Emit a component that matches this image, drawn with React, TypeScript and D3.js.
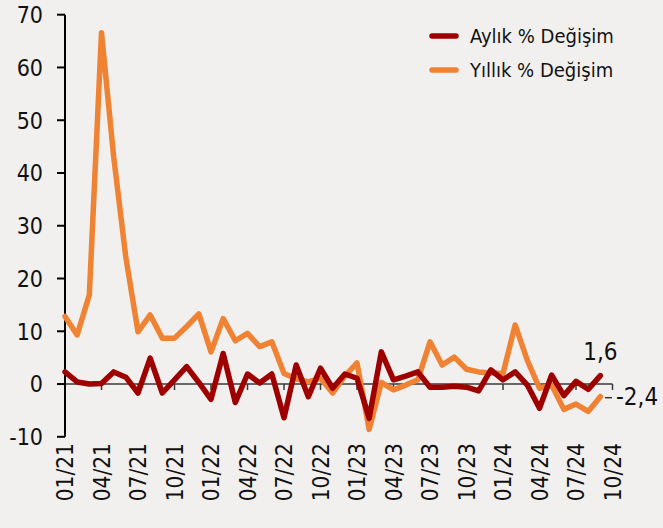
import React from "react";
import * as d3 from "d3";

const months = [
  "01/21","02/21","03/21","04/21","05/21","06/21","07/21","08/21","09/21","10/21","11/21","12/21",
  "01/22","02/22","03/22","04/22","05/22","06/22","07/22","08/22","09/22","10/22","11/22","12/22",
  "01/23","02/23","03/23","04/23","05/23","06/23","07/23","08/23","09/23","10/23","11/23","12/23",
  "01/24","02/24","03/24","04/24","05/24","06/24","07/24","08/24","09/24","10/24",
];
const tickLabels = ["01/21","04/21","07/21","10/21","01/22","04/22","07/22","10/22","01/23","04/23","07/23","10/23","01/24","04/24","07/24","10/24"];
const yTicks = [-10, 0, 10, 20, 30, 40, 50, 60, 70];

const monthlyChange = [2.3,0.4,0,0.1,2.3,1.3,-1.7,4.9,-1.7,0.8,3.3,0.3,-2.9,5.8,-3.5,1.9,0.2,1.9,-6.4,3.6,-2.4,3.0,-0.8,1.9,1.1,-6.5,6.1,0.8,1.5,2.3,-0.6,-0.6,-0.4,-0.6,-1.3,2.7,0.8,2.3,-0.2,-4.6,1.7,-2.2,0.5,-1.0,1.6];
const annualChange = [12.8,9.3,16.9,66.6,43.1,24,9.9,13.1,8.7,8.7,10.9,13.3,6.1,12.4,8.2,9.6,7.1,8.0,2.0,1.0,0.4,1.1,-1.7,1.5,4.0,-8.6,0.3,-1.1,-0.2,0.8,8.0,3.6,5.1,2.8,2.3,2.1,2.0,11.2,4.5,-0.8,-0.2,-4.8,-3.8,-5.2,-2.4];

const seriesNames = ["Aylık % Değişim", "Yıllık % Değişim"];
const lastLabels = ["1,6", "-2,4"];

const W = 663, H = 528;
const RED = "#9e0000";
const ORANGE = "#ef8233";
const FONT = "'DejaVu Sans Condensed', 'DejaVu Sans', sans-serif";

export default function App() {
  const x = d3.scalePoint<string>().domain(months).range([65, 612.5]);
  const y = d3.scaleLinear().domain([-10, 70]).range([436.8, 14.7]);
  const line = d3.line<number>().x((_, i) => x(months[i])!).y((d) => y(d));
  const nLast = monthlyChange.length - 1;
  const xLast = x(months[nLast])!;

  return (
    <svg width={W} height={H} style={{ position: "absolute", left: 0, top: 0, background: "#f2f0ee" }} fontFamily={FONT}>
      <rect x={0} y={0} width={W} height={H} fill="#f2f0ee" />
      {/* zero line with ticks */}
      <line x1={65} x2={x(months[months.length - 1])!} y1={y(0)} y2={y(0)} stroke="#3a3a3a" strokeWidth={1.5} />
      {tickLabels.map((t) => (
        <line key={"xt" + t} x1={x(t)!} x2={x(t)!} y1={y(0)} y2={y(0) + 6} stroke="#3a3a3a" strokeWidth={1.5} />
      ))}
      {/* y axis */}
      <line x1={65} x2={65} y1={y(70)} y2={y(-10)} stroke="#000" strokeWidth={2} />
      {yTicks.map((t) => (
        <g key={"yt" + t}>
          <line x1={57} x2={65} y1={y(t)} y2={y(t)} stroke="#000" strokeWidth={2} />
          <text x={43} y={y(t)} dy="0.36em" textAnchor="end" fontSize={23} fill="#111">{t}</text>
        </g>
      ))}
      {/* x labels */}
      {tickLabels.map((t) => (
        <text key={"xl" + t} transform={`translate(${x(t)! + 8},443) rotate(-90)`} textAnchor="end" fontSize={22.5} fill="#111">{t}</text>
      ))}
      {/* series */}
      <path d={line(annualChange)!} fill="none" stroke={ORANGE} strokeWidth={5.5} strokeLinejoin="round" strokeLinecap="round" />
      <path d={line(monthlyChange)!} fill="none" stroke={RED} strokeWidth={5.5} strokeLinejoin="round" strokeLinecap="round" />
      {/* end labels */}
      <text x={xLast} y={y(monthlyChange[nLast]) - 16} textAnchor="middle" fontSize={24} fill="#111">{lastLabels[0]}</text>
      <line x1={605} x2={612} y1={y(annualChange[nLast]) + 1} y2={y(annualChange[nLast]) + 1} stroke="#3a3a3a" strokeWidth={1.5} />
      <text x={616} y={y(annualChange[nLast])} dy="0.36em" textAnchor="start" fontSize={24} fill="#111">{lastLabels[1]}</text>
      {/* legend */}
      <line x1={432} x2={456} y1={36} y2={36} stroke={RED} strokeWidth={5.5} strokeLinecap="round" />
      <text x={470} y={36} dy="0.36em" fontSize={20} fill="#111">{seriesNames[0]}</text>
      <line x1={432} x2={456} y1={70} y2={70} stroke={ORANGE} strokeWidth={5.5} strokeLinecap="round" />
      <text x={470} y={70} dy="0.36em" fontSize={20} fill="#111">{seriesNames[1]}</text>
    </svg>
  );
}
